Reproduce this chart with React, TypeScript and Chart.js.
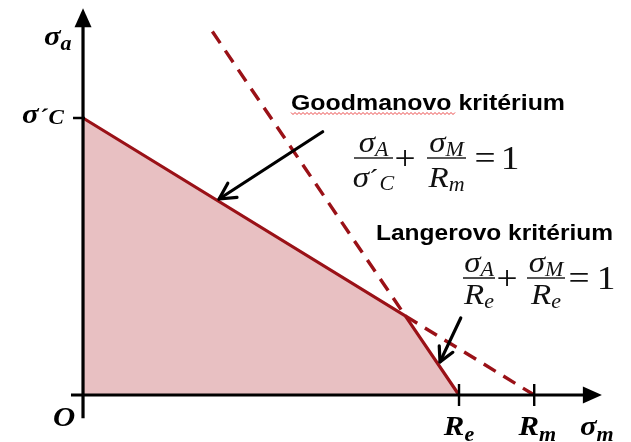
import React, { useEffect, useRef } from "react";
import { Chart, registerables } from "chart.js";

Chart.register(...registerables);

// Material characteristics (MPa)
const fatigueLimit = 250; // σ´C
const yieldStrength = 500; // Re
const ultimateStrength = 600; // Rm

// Boundary of the safe region: Goodman line up to the knee, then Langer line down to Re
const safeSigmaM = [0, 428.6, 500];
const safeSigmaA = [250, 71.4, 0];

// Goodman line beyond the knee, down to Rm
const goodmanSigmaM = [428.6, 600];
const goodmanSigmaA = [71.4, 0];

// Langer line above the knee (drawn from its upper end)
const langerSigmaM = [172, 428.6];
const langerSigmaA = [328, 71.4];

// Pointer arrows [tail, tip] in (σm, σa)
const goodmanPointer = [
  [318.7, 237.6],
  [180.9, 176.9],
];
const langerPointer = [
  [502.3, 69.5],
  [474.7, 29.9],
];

// Extent of the drawn axis lines
const axisSigmaM = [-16, 690];
const axisSigmaA = [-21, 349];

const LINE_RED = "#9a1117";
const FILL_PINK = "#e8c0c2";

const AXIS_FONT = 'bold italic 28px "Liberation Serif"';
const AXIS_SUB = 'bold italic 20px "Liberation Serif"';
const MATH = 'italic 30px "Liberation Serif"';
const MATH_SUB = 'italic 20px "Liberation Serif"';
const MATH_MAIN = '34px "Liberation Serif"';
const STRETCH = 1.1;

type Run = { t: string; font: string; dy?: number; dx?: number };

function drawRuns(
  ctx: CanvasRenderingContext2D,
  runs: Run[],
  x: number,
  baseline: number,
  align: "left" | "center" = "left",
  sx = STRETCH
) {
  let total = 0;
  const widths = runs.map((r) => {
    ctx.font = r.font;
    const w = ctx.measureText(r.t).width * sx + (r.dx || 0);
    total += w;
    return w;
  });
  let cur = align === "center" ? x - total / 2 : x;
  runs.forEach((r, i) => {
    ctx.save();
    ctx.font = r.font;
    ctx.textAlign = "left";
    ctx.textBaseline = "alphabetic";
    ctx.translate(cur + (r.dx || 0), baseline + (r.dy || 0));
    ctx.scale(sx, 1);
    ctx.fillText(r.t, 0, 0);
    ctx.restore();
    cur += widths[i];
  });
}

function drawFittedText(
  ctx: CanvasRenderingContext2D,
  text: string,
  font: string,
  x: number,
  baseline: number,
  width: number
) {
  ctx.save();
  ctx.font = font;
  const w = ctx.measureText(text).width;
  ctx.translate(x, baseline);
  ctx.scale(width / w, 1);
  ctx.textAlign = "left";
  ctx.textBaseline = "alphabetic";
  ctx.fillText(text, 0, 0);
  ctx.restore();
}

function drawFraction(
  ctx: CanvasRenderingContext2D,
  x0: number,
  x1: number,
  lineY: number,
  num: Run[],
  den: Run[],
  denGap: number
) {
  ctx.save();
  ctx.strokeStyle = "#222";
  ctx.lineWidth = 1.6;
  ctx.beginPath();
  ctx.moveTo(x0, lineY);
  ctx.lineTo(x1, lineY);
  ctx.stroke();
  ctx.restore();
  const cx = (x0 + x1) / 2;
  drawRuns(ctx, num, cx, lineY - 6, "center");
  drawRuns(ctx, den, cx, lineY + denGap, "center");
}

function drawPointer(
  ctx: CanvasRenderingContext2D,
  tx: number,
  ty: number,
  hx: number,
  hy: number,
  headLen: number
) {
  ctx.save();
  ctx.strokeStyle = "#000";
  ctx.lineWidth = 3.2;
  ctx.lineCap = "round";
  ctx.lineJoin = "round";
  ctx.beginPath();
  ctx.moveTo(tx, ty);
  ctx.lineTo(hx, hy);
  ctx.stroke();
  const ang = Math.atan2(hy - ty, hx - tx);
  const spread = (28 * Math.PI) / 180;
  ctx.beginPath();
  ctx.moveTo(hx - headLen * Math.cos(ang - spread), hy - headLen * Math.sin(ang - spread));
  ctx.lineTo(hx, hy);
  ctx.lineTo(hx - headLen * Math.cos(ang + spread), hy - headLen * Math.sin(ang + spread));
  ctx.stroke();
  ctx.restore();
}

const haighOverlay = {
  id: "haighOverlay",
  afterDatasetsDraw(chart: any) {
    const { ctx, scales } = chart;
    const px = (v: number) => scales.x.getPixelForValue(v);
    const py = (v: number) => scales.y.getPixelForValue(v);
    const ox = px(0);
    const oy = py(0);

    ctx.save();
    ctx.fillStyle = "#000";
    ctx.strokeStyle = "#000";

    // axes with filled arrowheads
    const xTip = px(axisSigmaM[1]);
    const yTip = py(axisSigmaA[1]);
    const head = 19;
    const half = 8.5;
    ctx.lineWidth = 3.2;
    ctx.beginPath();
    ctx.moveTo(px(axisSigmaM[0]), oy);
    ctx.lineTo(xTip - head + 2, oy);
    ctx.moveTo(ox, py(axisSigmaA[0]));
    ctx.lineTo(ox, yTip + head - 2);
    ctx.stroke();
    ctx.beginPath();
    ctx.moveTo(xTip, oy);
    ctx.lineTo(xTip - head, oy - half);
    ctx.lineTo(xTip - head, oy + half);
    ctx.closePath();
    ctx.fill();
    ctx.beginPath();
    ctx.moveTo(ox, yTip);
    ctx.lineTo(ox - half, yTip + head);
    ctx.lineTo(ox + half, yTip + head);
    ctx.closePath();
    ctx.fill();

    // tick marks
    ctx.lineWidth = 2.4;
    ctx.beginPath();
    ctx.moveTo(ox - 10, py(fatigueLimit));
    ctx.lineTo(ox + 2, py(fatigueLimit));
    [yieldStrength, ultimateStrength].forEach((v) => {
      ctx.moveTo(px(v), oy - 11);
      ctx.lineTo(px(v), oy + 11);
    });
    ctx.stroke();

    // axis labels
    drawRuns(ctx, [
      { t: "σ", font: AXIS_FONT },
      { t: "a", font: AXIS_SUB, dy: 5 },
    ], 44, 45);
    drawRuns(ctx, [
      { t: "σ", font: AXIS_FONT },
      { t: "´", font: 'bold italic 24px "Liberation Serif"', dy: 2 },
      { t: "C", font: 'bold italic 21px "Liberation Serif"', dy: 1, dx: 1 },
    ], 22, py(fatigueLimit) + 5);
    drawRuns(ctx, [{ t: "O", font: AXIS_FONT }], ox - 19, oy + 31, "center");
    drawRuns(ctx, [
      { t: "R", font: AXIS_FONT },
      { t: "e", font: AXIS_SUB, dy: 6 },
    ], px(yieldStrength), oy + 40, "center");
    drawRuns(ctx, [
      { t: "R", font: AXIS_FONT },
      { t: "m", font: AXIS_SUB, dy: 6 },
    ], px(ultimateStrength) + 3, oy + 40, "center");
    drawRuns(ctx, [
      { t: "σ", font: AXIS_FONT },
      { t: "m", font: AXIS_SUB, dy: 6 },
    ], 580, oy + 40);

    // pointers
    drawPointer(ctx, px(goodmanPointer[0][0]), py(goodmanPointer[0][1]), px(goodmanPointer[1][0]), py(goodmanPointer[1][1]), 18);
    drawPointer(ctx, px(langerPointer[0][0]), py(langerPointer[0][1]), px(langerPointer[1][0]), py(langerPointer[1][1]), 16);

    // criterion captions
    ctx.fillStyle = "#000";
    drawFittedText(ctx, "Goodmanovo kritérium", 'bold 22px "Liberation Sans"', 291, 110, 274);
    drawFittedText(ctx, "Langerovo kritérium", 'bold 22px "Liberation Sans"', 376, 240, 237);

    // spell-check squiggle under the first word
    ctx.save();
    ctx.strokeStyle = "rgba(230,40,40,0.85)";
    ctx.lineWidth = 1;
    ctx.beginPath();
    for (let x = 291, i = 0; x <= 455; x += 2, i++) {
      const yy = i % 2 === 0 ? 112.5 : 114.5;
      if (i === 0) ctx.moveTo(x, yy);
      else ctx.lineTo(x, yy);
    }
    ctx.stroke();
    ctx.restore();

    // Goodman formula
    ctx.fillStyle = "#111";
    drawFraction(ctx, 354, 393, 158,
      [{ t: "σ", font: MATH }, { t: "A", font: MATH_SUB, dy: 4 }],
      [{ t: "σ", font: MATH }, { t: "´", font: '26px "Liberation Serif"' }, { t: "C", font: MATH_SUB, dy: 3, dx: 1 }], 29);
    drawRuns(ctx, [{ t: "+", font: MATH_MAIN }], 405, 169, "center");
    drawFraction(ctx, 427, 466, 158,
      [{ t: "σ", font: MATH }, { t: "M", font: MATH_SUB, dy: 4 }],
      [{ t: "R", font: MATH }, { t: "m", font: MATH_SUB, dy: 4 }], 29);
    drawRuns(ctx, [{ t: "=", font: MATH_MAIN }], 485, 169, "center");
    drawRuns(ctx, [{ t: "1", font: MATH_MAIN }], 510, 169, "center");

    // Langer formula
    drawFraction(ctx, 463, 495, 278,
      [{ t: "σ", font: MATH }, { t: "A", font: MATH_SUB, dy: 4 }],
      [{ t: "R", font: MATH }, { t: "e", font: MATH_SUB, dy: 4 }], 26);
    drawRuns(ctx, [{ t: "+", font: MATH_MAIN }], 507, 289, "center");
    drawFraction(ctx, 527, 565, 278,
      [{ t: "σ", font: MATH }, { t: "M", font: MATH_SUB, dy: 4 }],
      [{ t: "R", font: MATH }, { t: "e", font: MATH_SUB, dy: 4 }], 26);
    drawRuns(ctx, [{ t: "=", font: MATH_MAIN }], 579, 289, "center");
    drawRuns(ctx, [{ t: "1", font: MATH_MAIN }], 606, 289, "center");

    ctx.restore();
  },
};

const toPoints = (xs: number[], ys: number[]) => xs.map((x, i) => ({ x, y: ys[i] }));

export default function App() {
  const canvasRef = useRef<HTMLCanvasElement | null>(null);

  useEffect(() => {
    if (!canvasRef.current) return;
    const chart = new Chart(canvasRef.current, {
      type: "line",
      data: {
        datasets: [
          {
            data: toPoints(goodmanSigmaM, goodmanSigmaA),
            borderColor: LINE_RED,
            borderWidth: 3.4,
            borderDash: [14, 9],
            pointRadius: 0,
            fill: false,
            order: 1,
          },
          {
            data: toPoints(langerSigmaM, langerSigmaA),
            borderColor: LINE_RED,
            borderWidth: 3.4,
            borderDash: [14, 9],
            pointRadius: 0,
            fill: false,
            order: 1,
          },
          {
            data: toPoints(safeSigmaM, safeSigmaA),
            borderColor: LINE_RED,
            backgroundColor: FILL_PINK,
            borderWidth: 3.2,
            pointRadius: 0,
            fill: "origin",
            order: 2,
          },
        ],
      },
      options: {
        animation: false,
        responsive: false,
        devicePixelRatio: 1,
        layout: { padding: 0 },
        plugins: {
          legend: { display: false },
          tooltip: { enabled: false },
        },
        scales: {
          x: { type: "linear", display: false, min: -110.4, max: 728.7 },
          y: { type: "linear", display: false, min: -42.4, max: 356.5 },
        },
        elements: { line: { tension: 0, borderCapStyle: "butt" } },
      },
      plugins: [haighOverlay],
    });
    return () => chart.destroy();
  }, []);

  return (
    <div style={{ position: "fixed", left: 0, top: 0, width: 631, height: 442, background: "#fff" }}>
      <canvas ref={canvasRef} width={631} height={442} style={{ display: "block" }} />
    </div>
  );
}
